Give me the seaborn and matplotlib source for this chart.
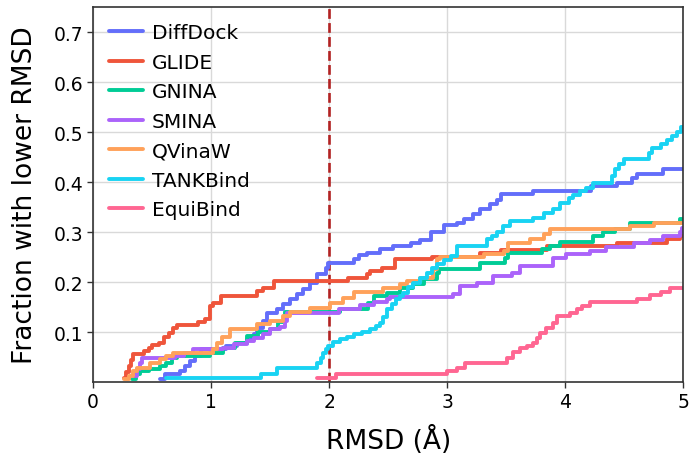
import pandas as pd
import matplotlib
matplotlib.use("Agg")
import matplotlib.pyplot as plt
import seaborn as sns

# Step points (RMSD threshold, fraction with lower RMSD)
METHODS = ["DiffDock", "GLIDE", "GNINA", "SMINA", "QVinaW", "TANKBind", "EquiBind"]
COLORS = ["#636EFA", "#EF553B", "#00CC96", "#AB63FA", "#FFA15A", "#19D3F3", "#FF6692"]

diffdock_x = [0.57, 0.61, 0.74, 0.78, 0.82, 0.86, 0.91, 1.13, 1.22, 1.30, 1.36, 1.39, 1.44, 1.47, 1.56, 1.61,
              1.67, 1.73, 1.78, 1.84, 1.90, 1.97, 1.99, 2.21, 2.25, 2.32, 2.43, 2.54, 2.69, 2.77, 2.86, 2.97,
              3.08, 3.14, 3.22, 3.28, 3.36, 3.42, 3.46, 3.73, 4.22, 4.44, 4.57, 4.61, 4.83, 5.0]
diffdock_y = [0.007, 0.016, 0.023, 0.033, 0.043, 0.053, 0.066, 0.073, 0.079, 0.086, 0.096, 0.109, 0.123, 0.139,
              0.146, 0.156, 0.166, 0.176, 0.186, 0.199, 0.216, 0.229, 0.238, 0.246, 0.254, 0.259, 0.266, 0.273,
              0.278, 0.285, 0.301, 0.314, 0.319, 0.327, 0.336, 0.347, 0.357, 0.365, 0.376, 0.383, 0.392, 0.398,
              0.408, 0.417, 0.426, 0.426]

glide_x = [0.26, 0.28, 0.30, 0.32, 0.34, 0.43, 0.47, 0.50, 0.56, 0.60, 0.64, 0.68, 0.71, 0.89, 0.95, 0.99,
           1.02, 1.08, 1.39, 1.44, 1.53, 2.16, 2.32, 2.35, 2.45, 2.56, 2.87, 3.28, 3.46, 3.85, 4.44, 4.86, 4.97, 5.0]
glide_y = [0.008, 0.02, 0.032, 0.045, 0.056, 0.063, 0.069, 0.074, 0.079, 0.09, 0.099, 0.109, 0.114, 0.121,
           0.127, 0.153, 0.159, 0.173, 0.183, 0.189, 0.203, 0.209, 0.216, 0.223, 0.229, 0.246, 0.251, 0.258,
           0.265, 0.273, 0.279, 0.286, 0.293, 0.293]

gnina_x = [0.33, 0.36, 0.40, 0.47, 0.57, 0.62, 0.67, 0.71, 0.99, 1.10, 1.20, 1.30, 1.40, 1.50, 1.57, 1.63,
           2.09, 2.33, 2.38, 2.49, 2.60, 2.71, 2.80, 2.91, 2.93, 3.28, 3.49, 3.52, 3.80, 3.87, 3.96, 4.24,
           4.32, 4.42, 4.55, 4.97, 5.0]
gnina_y = [0.006, 0.016, 0.023, 0.027, 0.033, 0.039, 0.049, 0.053, 0.059, 0.069, 0.079, 0.093, 0.1, 0.106,
           0.12, 0.141, 0.147, 0.159, 0.173, 0.179, 0.189, 0.196, 0.206, 0.219, 0.227, 0.238, 0.249, 0.259,
           0.266, 0.273, 0.281, 0.293, 0.301, 0.306, 0.319, 0.327, 0.327]

smina_x = [0.34, 0.37, 0.40, 0.41, 0.69, 0.77, 0.85, 1.10, 1.19, 1.30, 1.36, 1.44, 1.50, 1.58, 1.63, 1.64,
           2.08, 2.26, 2.38, 2.49, 2.52, 3.05, 3.11, 3.25, 3.39, 3.55, 3.62, 3.90, 4.01, 4.21, 4.35, 4.58,
           4.72, 4.83, 4.97, 4.99, 5.0]
smina_y = [0.013, 0.026, 0.039, 0.049, 0.052, 0.059, 0.066, 0.069, 0.076, 0.083, 0.089, 0.096, 0.106, 0.111,
           0.123, 0.139, 0.146, 0.154, 0.161, 0.167, 0.17, 0.176, 0.193, 0.199, 0.213, 0.219, 0.233, 0.249,
           0.256, 0.263, 0.271, 0.278, 0.285, 0.293, 0.3, 0.309, 0.309]

qvina_x = [0.26, 0.30, 0.34, 0.37, 0.48, 0.57, 0.62, 0.68, 1.02, 1.05, 1.09, 1.16, 1.39, 1.50, 1.61, 1.67,
           1.84, 2.01, 2.12, 2.21, 2.46, 2.60, 2.66, 2.77, 2.88, 2.91, 2.94, 3.31, 3.48, 3.52, 3.70, 3.82,
           3.87, 4.55, 4.75, 5.0]
qvina_y = [0.007, 0.013, 0.023, 0.029, 0.039, 0.046, 0.053, 0.058, 0.066, 0.079, 0.091, 0.106, 0.116, 0.123,
           0.133, 0.141, 0.149, 0.159, 0.169, 0.181, 0.189, 0.196, 0.203, 0.209, 0.226, 0.246, 0.251, 0.256,
           0.263, 0.279, 0.286, 0.296, 0.306, 0.313, 0.319, 0.319]

tankbind_x = [0.62, 1.42, 1.56, 1.90, 1.93, 1.95, 1.97, 1.99, 2.03, 2.09, 2.15, 2.21, 2.28, 2.35, 2.40, 2.43,
              2.46, 2.49, 2.53, 2.57, 2.60, 2.63, 2.67, 2.71, 2.77, 2.83, 2.87, 2.91, 2.97, 3.03, 3.08, 3.34,
              3.38, 3.42, 3.47, 3.53, 3.73, 3.82, 3.90, 3.96, 4.03, 4.07, 4.13, 4.18, 4.24, 4.40, 4.42, 4.46,
              4.50, 4.71, 4.74, 4.81, 4.86, 4.91, 4.95, 4.98, 5.0]
tankbind_y = [0.009, 0.016, 0.029, 0.039, 0.049, 0.059, 0.066, 0.073, 0.08, 0.086, 0.09, 0.096, 0.10, 0.106,
              0.112, 0.119, 0.13, 0.146, 0.156, 0.166, 0.172, 0.179, 0.19, 0.199, 0.209, 0.219, 0.228, 0.236,
              0.245, 0.253, 0.273, 0.286, 0.293, 0.301, 0.312, 0.323, 0.329, 0.338, 0.346, 0.359, 0.369, 0.374,
              0.383, 0.388, 0.398, 0.413, 0.426, 0.436, 0.446, 0.459, 0.469, 0.477, 0.485, 0.493, 0.5, 0.51, 0.51]

equibind_x = [1.90, 2.06, 3.00, 3.08, 3.15, 3.51, 3.56, 3.62, 3.68, 3.73, 3.76, 3.79, 3.84, 3.90, 3.93, 4.04,
              4.10, 4.14, 4.21, 4.61, 4.72, 4.81, 4.89, 5.0]
equibind_y = [0.009, 0.016, 0.023, 0.029, 0.038, 0.049, 0.061, 0.068, 0.073, 0.079, 0.089, 0.099, 0.109, 0.119,
              0.133, 0.139, 0.146, 0.153, 0.161, 0.167, 0.174, 0.181, 0.189, 0.189]

SERIES = {
    "DiffDock": (diffdock_x, diffdock_y),
    "GLIDE": (glide_x, glide_y),
    "GNINA": (gnina_x, gnina_y),
    "SMINA": (smina_x, smina_y),
    "QVinaW": (qvina_x, qvina_y),
    "TANKBind": (tankbind_x, tankbind_y),
    "EquiBind": (equibind_x, equibind_y),
}

rows = []
for name in METHODS:
    xs, ys = SERIES[name]
    for xv, yv in zip(xs, ys):
        rows.append({"method": name, "rmsd": xv, "frac": yv})
df = pd.DataFrame(rows)

sns.set_style("white", rc={"text.color": "black", "axes.labelcolor": "black",
                           "xtick.color": "black", "ytick.color": "black",
                           "xtick.bottom": True, "ytick.left": True})
plt.rcParams["font.family"] = ["DejaVu Sans"]

fig = plt.figure(figsize=(6.9, 4.56), dpi=100)
ax = fig.add_axes([0.135, 0.16, 0.855, 0.822])

ax.grid(True, color="#d9d9d9", linewidth=1.0)
ax.set_axisbelow(True)

sns.lineplot(data=df, x="rmsd", y="frac", hue="method", hue_order=METHODS,
             palette=dict(zip(METHODS, COLORS)), drawstyle="steps-post",
             estimator=None, sort=False, linewidth=2.8, ax=ax)

ax.axvline(2, color="#B22222", linestyle="--", linewidth=1.9, zorder=1)

ax.set_xlim(0, 5)
ax.set_ylim(0, 0.75)
ax.set_xticks([0, 1, 2, 3, 4, 5])
ax.set_yticks([0.1, 0.2, 0.3, 0.4, 0.5, 0.6, 0.7])
ax.tick_params(axis="both", bottom=True, left=True, labelsize=13.5, length=4, width=1,
               color="#333333", direction="out", pad=3)
ax.set_xlabel("RMSD (Å)", fontsize=19, labelpad=10)
ax.set_ylabel("Fraction with lower RMSD", fontsize=19, labelpad=11)
for spine in ax.spines.values():
    spine.set_edgecolor("#333333")
    spine.set_linewidth(1.2)

handles, labels = ax.get_legend_handles_labels()
ax.legend(handles, labels, loc="upper left", frameon=False, fontsize=14.5,
          handlelength=1.7, handletextpad=0.4, labelspacing=0.52, borderaxespad=0.4)

fig.savefig("out.png", dpi=100)
